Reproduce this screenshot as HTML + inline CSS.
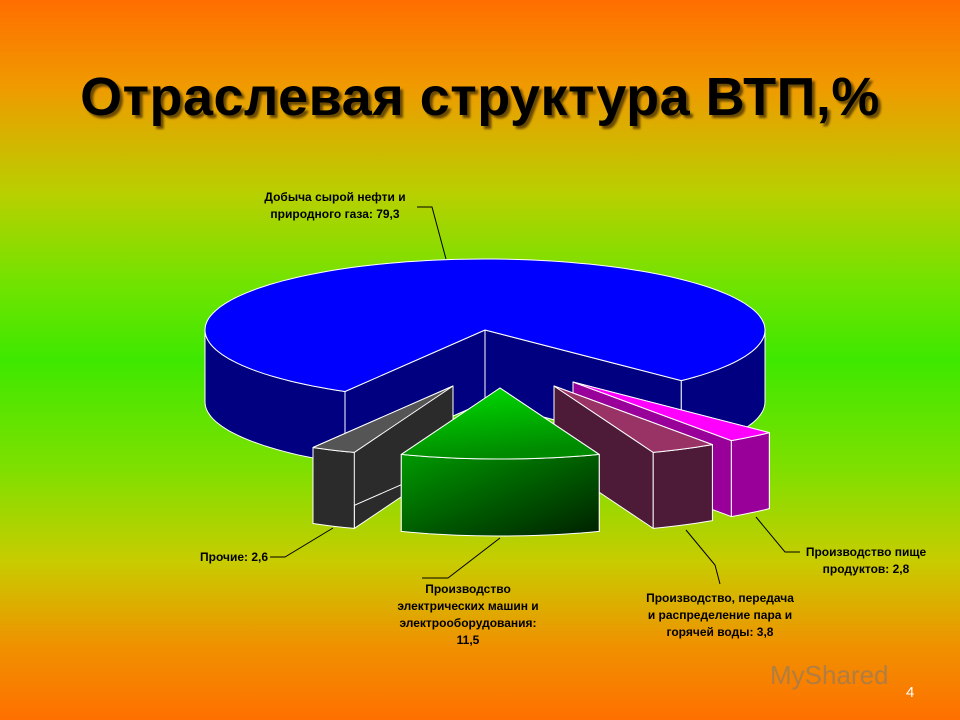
<!DOCTYPE html>
<html><head><meta charset="utf-8">
<style>
html,body{margin:0;padding:0;}
body{width:960px;height:720px;overflow:hidden;position:relative;
background:linear-gradient(to bottom,#ff6e00 0%,#f09a00 12%,#b8d000 27%,#6ee400 40%,#3ee800 50%,#7ee000 65%,#c8cc00 78%,#f09000 90%,#ff7000 100%);
font-family:"Liberation Sans",sans-serif;}
#title{position:absolute;left:0;top:66px;width:960px;text-align:center;font-size:54px;font-weight:bold;color:#000;text-shadow:3px 3px 2px #6a4a00;letter-spacing:0.5px;}
#chart{position:absolute;left:0;top:0;}
.lbl{font-family:"Liberation Sans",sans-serif;font-size:12px;font-weight:bold;fill:#000;}
#pgnum{position:absolute;left:906px;top:684px;color:#fff;font-size:15px;}
#wm{position:absolute;left:770px;top:660px;color:rgba(120,120,120,0.55);font-size:26px;}
</style></head><body>
<div id="title">Отраслевая структура ВТП,%</div>
<svg id="chart" width="960" height="720">
<defs>
<linearGradient id="gTop" x1="0" y1="0" x2="0.3" y2="1"><stop offset="0" stop-color="#00e000"/><stop offset="1" stop-color="#008a00"/></linearGradient>
<linearGradient id="gSide" x1="0" y1="0" x2="1" y2="1"><stop offset="0" stop-color="#009a00"/><stop offset="1" stop-color="#002000"/></linearGradient>
</defs>
<g id="slices"></g>
<g id="labels"></g>
</svg>
<div id="wm">MyShared</div>
<div id="pgnum">4</div>
<script>
const categories=["Добыча сырой нефти и природного газа","Прочие","Производство электрических машин и электрооборудования","Производство, передача и распределение пара и горячей воды","Производство пище продуктов"];
const values=[79.3,2.6,11.5,3.8,2.8];
const printed=["79,3","2,6","11,5","3,8","2,8"];
// styles
const topFill=["#0000ff","#555555","url(#gTop)","#993366","#ff00ff"];
const sideFill=["#000080","#2b2b2b","url(#gSide)","#4d1a38","#990099"];
const explodeDX=[0,-32,15,69,88], explodeDY=[0,56,58,56,52];
const CX=485,CY=330,RX=280,RY=71,DEPTH=[72,76,77,76,76];
const startDeg=120;
const angleOrder=[0,4,3,2,1];
const NS="http://www.w3.org/2000/svg";
const gS=document.getElementById('slices');
const total=values.reduce((a,b)=>a+b,0);
let a=startDeg;const angs=[];
angleOrder.forEach(i=>{const s=a;a+=values[i]/total*360;angs[i]=[s,a];});
function pt(cx,cy,rx,ry,d,off){const r=d*Math.PI/180;return [cx+rx*Math.cos(r),cy+ry*Math.sin(r)+(off||0)];}
function mk(d,fill,name){const p=document.createElementNS(NS,'path');p.setAttribute('d',d);p.setAttribute('fill',fill);p.setAttribute('stroke','#fff');p.setAttribute('stroke-width','1');p.setAttribute('stroke-linejoin','round');


gS.appendChild(p);}
function arcPath(cx,cy,rx,ry,s,e,off,rev){let d='';const n=Math.max(2,Math.ceil(Math.abs(e-s)/2));for(let i=0;i<=n;i++){const t=rev?e-(e-s)*i/n:s+(e-s)*i/n;const q=pt(cx,cy,rx,ry,t,off);d+=(i===0?'':'L')+q[0].toFixed(1)+' '+q[1].toFixed(1)+' ';}return d;}
const order=[0,1,4,3,2];
order.forEach(i=>{
 const [s,e]=angs[i];const cx=CX+explodeDX[i],cy=CY+explodeDY[i],rx=RX,ry=RY,D=DEPTH[i];
 const nm=['slice-oil-gas','slice-other','slice-electrical','slice-steam','slice-food'][i];
 [s,e].forEach(w=>{const q=pt(cx,cy,rx,ry,w);
  mk(`M${cx} ${cy} L${q[0]} ${q[1]} L${q[0]} ${q[1]+D} L${cx} ${cy+D} Z`,sideFill[i],nm+'-wall');});
 for(let k=-1;k<=2;k++){const lo=Math.max(s,k*360),hi=Math.min(e,k*360+180);
  if(hi>lo){mk('M'+arcPath(cx,cy,rx,ry,lo,hi,0,false)+'L'+arcPath(cx,cy,rx,ry,lo,hi,D,true).trim()+' Z',sideFill[i],nm+'-side');}}
 mk(`M${cx} ${cy} L`+arcPath(cx,cy,rx,ry,s,e,0,false)+'Z',topFill[i],nm+'-top');
});
const gL=document.getElementById('labels');
function txt(lines,x,y,anchor,name){const t=document.createElementNS(NS,'text');t.setAttribute('class','lbl');t.setAttribute('text-anchor',anchor);
 
 
 lines.forEach((l,j)=>{const ts=document.createElementNS(NS,'tspan');ts.setAttribute('x',x);ts.setAttribute('y',y+j*17);ts.textContent=l;t.appendChild(ts);});gL.appendChild(t);}
function line(pts,name){const p=document.createElementNS(NS,'polyline');p.setAttribute('points',pts);p.setAttribute('fill','none');p.setAttribute('stroke','#000');p.setAttribute('stroke-width','1');
 
 
 gL.appendChild(p);}
txt(["Добыча сырой нефти и","природного газа: "+printed[0]],335,201,'middle','label-oil-gas');
line("417,207 432,207 446,259",'leader-oil-gas');
txt(["Прочие: "+printed[1]],268,561,'end','label-other');
line("270,557 285,557 333,528",'leader-other');
txt(["Производство","электрических машин и","электрооборудования:",printed[2]],468,593,'middle','label-electrical');
line("422,578 448,578 500,538",'leader-electrical');
txt(["Производство, передача","и распределение пара и","горячей воды: "+printed[3]],720,602,'middle','label-steam');
line("720,584 715,565 686,530",'leader-steam');
txt(["Производство пище","продуктов: "+printed[4]],866,556,'middle','label-food');
line("800,552 785,552 756,517",'leader-food');
</script>
</body></html>
